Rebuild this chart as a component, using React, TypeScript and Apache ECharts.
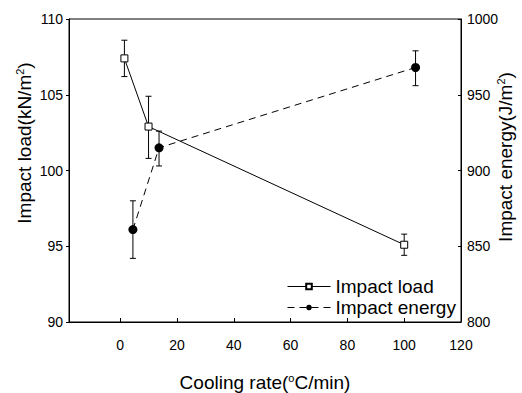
import React, { useEffect, useRef } from "react";
import * as echarts from "echarts";

const xTicks = [0, 20, 40, 60, 80, 100, 120];
const loadX = [1.5, 10, 100];
const loadY = [107.4, 102.9, 95.1];
const loadLow = [106.2, 100.8, 94.4];
const loadHigh = [108.6, 104.9, 95.8];
const energyX = [4.5, 13.7, 104];
const energyY = [861, 915, 968];
const energyLow = [842, 903, 956];
const energyHigh = [880, 926, 979];

const FONT = "Liberation Sans, Arial, sans-serif";

export default function App() {
  const ref = useRef<HTMLDivElement>(null);
  useEffect(() => {
    if (!ref.current) return;
    const chart = echarts.init(ref.current, null, { renderer: "svg" });
    const errRender = (params: any, api: any) => {
      const x = api.value(0);
      const lo = api.coord([x, api.value(1)]);
      const hi = api.coord([x, api.value(2)]);
      const cap = 3;
      const style = { stroke: "#000", lineWidth: 1 };
      return {
        type: "group",
        children: [
          { type: "line", shape: { x1: lo[0], y1: lo[1], x2: hi[0], y2: hi[1] }, style },
          { type: "line", shape: { x1: lo[0] - cap, y1: lo[1], x2: lo[0] + cap, y2: lo[1] }, style },
          { type: "line", shape: { x1: hi[0] - cap, y1: hi[1], x2: hi[0] + cap, y2: hi[1] }, style },
        ],
      };
    };
    const rich = { sup: { fontSize: 11, verticalAlign: "top", fontFamily: FONT, color: "#000", padding: [0, 0, 8, 0] } };
    chart.setOption({
      animation: false,
      textStyle: { fontFamily: FONT },
      grid: { left: 69, right: 61, top: 19, bottom: 71, show: true, borderColor: "#000", borderWidth: 1 },
      legend: {
        data: ["Impact load", "Impact energy"],
        orient: "vertical",
        left: 282,
        top: 272,
        itemWidth: 43,
        itemHeight: 7,
        itemGap: 2,
        lineStyle: { width: 1 },
        textStyle: { fontSize: 19, color: "#000", fontFamily: FONT },
      },
      xAxis: {
        type: "value",
        min: -18,
        max: 120,
        splitLine: { show: false },
        axisLine: { onZero: false, lineStyle: { color: "#000" } },
        axisTick: { inside: true, length: 4, customValues: xTicks, lineStyle: { color: "#000" } },
        axisLabel: { customValues: xTicks, fontSize: 14, color: "#000", margin: 16, fontFamily: FONT },
      },
      yAxis: [
        {
          type: "value",
          min: 90,
          max: 110,
          interval: 5,
          splitLine: { show: false },
          axisLine: { show: true, onZero: false, lineStyle: { color: "#000" } },
          axisTick: { length: 3, lineStyle: { color: "#000" } },
          axisLabel: { fontSize: 14, color: "#000", margin: 6, fontFamily: FONT },
        },
        {
          type: "value",
          min: 800,
          max: 1000,
          interval: 50,
          position: "right",
          splitLine: { show: false },
          axisLine: { show: true, onZero: false, lineStyle: { color: "#000" } },
          axisTick: { length: 3, inside: true, lineStyle: { color: "#000" } },
          axisLabel: { fontSize: 14, color: "#000", margin: 6, fontFamily: FONT, formatter: (v: number) => String(v) },
        },
      ],
      graphic: [
        {
          type: "text",
          x: 24,
          y: 143,
          rotation: Math.PI / 2,
          style: {
            text: "Impact load(kN/m{sup|2})",
            rich,
            fontSize: 19,
            fontFamily: FONT,
            fill: "#000",
            align: "center",
            verticalAlign: "middle",
          },
        },
        {
          type: "text",
          x: 505,
          y: 157,
          rotation: Math.PI / 2,
          style: {
            text: "Impact energy(J/m{sup|2})",
            rich,
            fontSize: 19,
            fontFamily: FONT,
            fill: "#000",
            align: "center",
            verticalAlign: "middle",
          },
        },
        {
          type: "text",
          x: 265,
          y: 382,
          style: {
            text: "Cooling rate({sup|o}C/min)",
            rich,
            fontSize: 19,
            fontFamily: FONT,
            fill: "#000",
            align: "center",
            verticalAlign: "middle",
          },
        },
      ],
      series: [
        {
          name: "Impact load",
          type: "line",
          data: loadX.map((x, i) => [x, loadY[i]]),
          symbol: "rect",
          symbolSize: 7,
          itemStyle: { color: "#fff", borderColor: "#000", borderWidth: 1 },
          lineStyle: { color: "#000", width: 1 },
          z: 3,
        },
        {
          name: "Impact energy",
          type: "line",
          yAxisIndex: 1,
          data: energyX.map((x, i) => [x, energyY[i]]),
          symbol: "circle",
          symbolSize: 9,
          itemStyle: { color: "#000" },
          lineStyle: { color: "#000", width: 1, type: [7, 5] },
          z: 3,
        },
        {
          type: "custom",
          renderItem: errRender,
          data: loadX.map((x, i) => [x, loadLow[i], loadHigh[i]]),
          z: 2,
        },
        {
          type: "custom",
          yAxisIndex: 1,
          renderItem: errRender,
          data: energyX.map((x, i) => [x, energyLow[i], energyHigh[i]]),
          z: 2,
        },
      ],
    });
    return () => chart.dispose();
  }, []);
  return <div ref={ref} style={{ width: 522, height: 393, position: "absolute", left: 0, top: 0, background: "#fff" }} />;
}
